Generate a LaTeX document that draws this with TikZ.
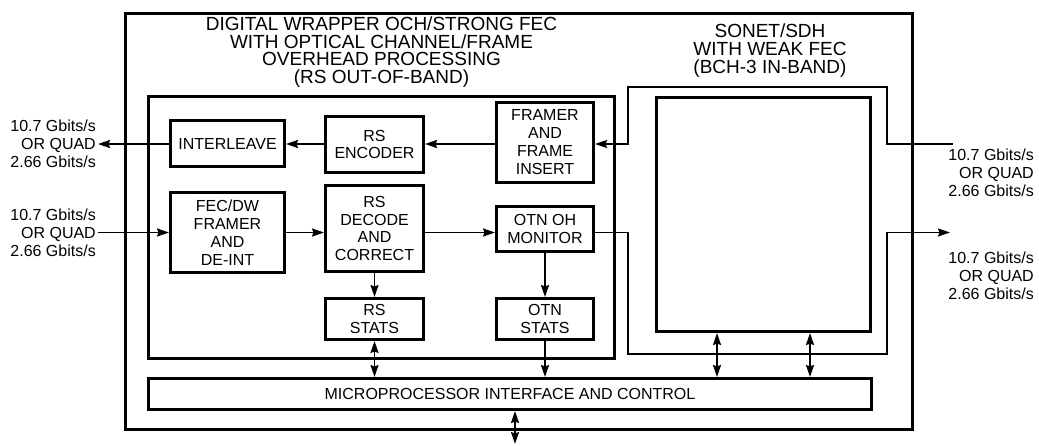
\documentclass[tikz,border=0pt]{standalone}
\usepackage{fontspec}
\setmainfont{Liberation Sans}
\usetikzlibrary{arrows.meta,calc}

\begin{document}
\begin{tikzpicture}[
  x=1pt,y=-1pt,
  >={Stealth[length=12pt,width=8pt,inset=1.5pt]},
  every node/.style={align=center, font=\fontsize{16}{17.8}\selectfont},
  block/.style={draw, line width=3pt, inner sep=0pt},
  sig/.style={line width=1.8pt},
  wire/.style={line width=1.6pt},
  rate/.style={align=right, inner sep=2pt},
  head/.style={font=\fontsize{19}{17.7}\selectfont}
]
% containers
\node[block, minimum width=787pt, minimum height=416pt] (chip) at (519,221.5) {};
\node[block, minimum width=466pt, minimum height=262pt] (dw) at (381.5,227.5) {};
\node[block, minimum width=214pt, minimum height=234pt] (sonet) at (763.5,214.5) {};
\node[block, minimum width=723pt, minimum height=31pt] (micro) at (510,394)
  {MICROPROCESSOR INTERFACE AND CONTROL};

\node[head] (dwtitle) at (381.5,52)
  {DIGITAL WRAPPER OCH/STRONG FEC\\WITH OPTICAL CHANNEL/FRAME\\OVERHEAD PROCESSING\\(RS OUT-OF-BAND)};
\node[head] (sonettitle) at (770,50.5)
  {SONET/SDH\\WITH WEAK FEC\\(BCH-3 IN-BAND)};

% blocks
\node[block, minimum width=114pt, minimum height=46pt] (interleave) at (227.5,143.5) {INTERLEAVE};
\node[block, minimum width=98pt, minimum height=56pt] (encoder) at (374.5,144.5) {RS\\ENCODER};
\node[block, minimum width=97pt, minimum height=80pt] (framer) at (545,142) {FRAMER\\AND\\FRAME\\INSERT};
\node[block, minimum width=114pt, minimum height=80pt] (fecdw) at (227.5,232.5) {FEC/DW\\FRAMER\\AND\\DE-INT};
\node[block, minimum width=98pt, minimum height=86pt] (decode) at (374.5,228.5) {RS\\DECODE\\AND\\CORRECT};
\node[block, minimum width=97pt, minimum height=45pt] (otnoh) at (545,229) {OTN OH\\MONITOR};
\node[block, minimum width=98pt, minimum height=41pt] (rsstats) at (374.5,319) {RS\\STATS};
\node[block, minimum width=97pt, minimum height=41pt] (otnstats) at (545,319) {OTN\\STATS};

% line rates
\node[rate, anchor=east] (lblL1) at (98,144) {10.7 Gbits/s\\OR QUAD\\2.66 Gbits/s};
\node[rate, anchor=east] (lblL2) at (98,232.5) {10.7 Gbits/s\\OR QUAD\\2.66 Gbits/s};
\node[rate, anchor=east] (lblR1) at (1036,173) {10.7 Gbits/s\\OR QUAD\\2.66 Gbits/s};
\node[rate, anchor=east] (lblR2) at (1036,276) {10.7 Gbits/s\\OR QUAD\\2.66 Gbits/s};

\coordinate (inR) at (953,144);
\coordinate (outR) at (950,232.5);
\coordinate (laneL) at (628,87);
\coordinate (laneR) at (887,87);
\coordinate (laneL2) at (628,354);
\coordinate (laneR2) at (887,354);
\coordinate (mpu) at (515,444);
\coordinate (busA) at ([xshift=-46.5pt]sonet.south);
\coordinate (busB) at ([xshift=46.5pt]sonet.south);

% transmit path
\draw[wire,->] (inR) -- (inR -| laneR) -- (laneR) -- (laneL) |- (framer.east |- inR);
\draw[sig,->] (framer.west |- inR) -- (encoder.east |- inR);
\draw[sig,->] (encoder.west |- inR) -- (interleave.east |- inR);
\draw[sig,->] (interleave.west |- lblL1.east) -- (lblL1.east);

% receive path
\draw[sig,->] (lblL2.east) -- (fecdw.west |- lblL2.east);
\draw[sig,->] (fecdw.east) -- (decode.west |- fecdw.east);
\draw[sig,->] (decode.east |- fecdw.east) -- (otnoh.west |- fecdw.east);
\draw[wire,->] (otnoh.east |- fecdw.east) -- (laneL2 |- fecdw.east) -- (laneL2)
  -- (laneR2) -- (laneR2 |- outR) -- (outR);

% stats and control
\draw[sig,->] (decode) -- (rsstats);
\draw[sig,->] (otnoh) -- (otnstats);
\draw[sig,<->] (rsstats.south) -- (rsstats.south |- micro.north);
\draw[sig,->] (otnstats.south) -- (otnstats.south |- micro.north);
\draw[sig,<->] (busA) -- (busA |- micro.north);
\draw[sig,<->] (busB) -- (busB |- micro.north);
\draw[sig,<->] (mpu |- micro.south) -- (mpu);

\path[use as bounding box] (0,0) rectangle (1039,445);
\end{tikzpicture}
\end{document}
